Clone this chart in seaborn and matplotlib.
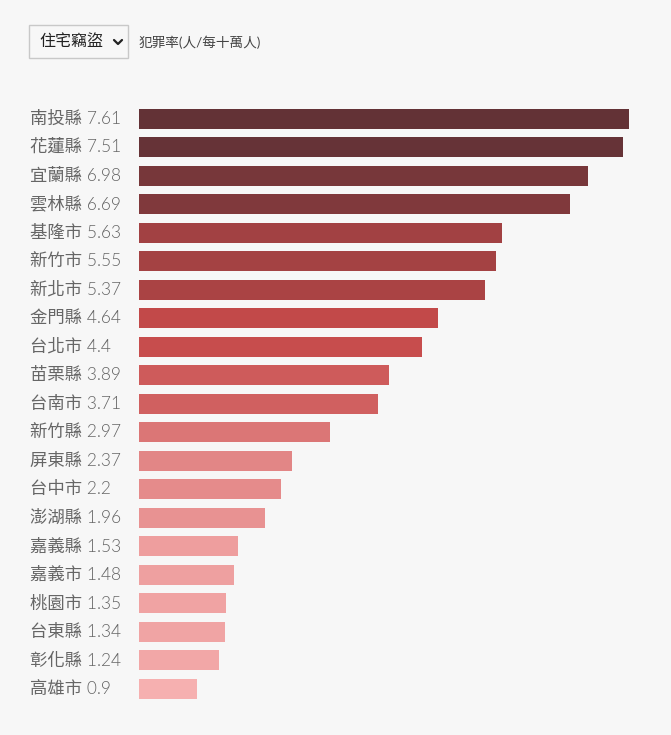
import numpy as np
import pandas as pd
import matplotlib
matplotlib.use("Agg")
import matplotlib.pyplot as plt
import seaborn as sns
from matplotlib.colors import LinearSegmentedColormap, Normalize
from matplotlib.patches import Rectangle
from matplotlib.lines import Line2D
import matplotlib.transforms as mtransforms

regions = ["南投縣", "花蓮縣", "宜蘭縣", "雲林縣", "基隆市", "新竹市", "新北市",
           "金門縣", "台北市", "苗栗縣", "台南市", "新竹縣", "屏東縣", "台中市",
           "澎湖縣", "嘉義縣", "嘉義市", "桃園市", "台東縣", "彰化縣", "高雄市"]
rates = [7.61, 7.51, 6.98, 6.69, 5.63, 5.55, 5.37, 4.64, 4.4, 3.89, 3.71,
         2.97, 2.37, 2.2, 1.96, 1.53, 1.48, 1.35, 1.34, 1.24, 0.9]
value_labels = ["7.61", "7.51", "6.98", "6.69", "5.63", "5.55", "5.37", "4.64",
                "4.4", "3.89", "3.71", "2.97", "2.37", "2.2", "1.96", "1.53",
                "1.48", "1.35", "1.34", "1.24", "0.9"]
category = "住宅竊盜"
subtitle = "犯罪率(人/每十萬人)"

df = pd.DataFrame({"region": regions, "rate": rates})

W, H = 671, 735
BG = "#f7f7f7"
sns.set_theme(style="white")
plt.rcParams["font.family"] = ["Lato", "Noto Sans CJK TC", "DejaVu Sans"]

fig = plt.figure(figsize=(W / 100, H / 100), dpi=100, facecolor=BG)

# axes geometry (pixels)
x0, x1 = 139, 629
row0, rowN = 118.5, 689.0
step = (rowN - row0) / (len(regions) - 1)
top = row0 - step / 2
bot = rowN + step / 2
ax = fig.add_axes([x0 / W, 1 - bot / H, (x1 - x0) / W, (bot - top) / H])
ax.set_facecolor(BG)

# colour scale: light pink -> red -> dark maroon
vmin, vmax = min(rates), max(rates)
cmap = LinearSegmentedColormap.from_list(
    "crime", [(0.0, "#f6b0b0"), ((4.5 - vmin) / (vmax - vmin), "#c64a4a"), (1.0, "#633236")])
norm = Normalize(vmin, vmax)
palette = {r: cmap(norm(v)) for r, v in zip(regions, rates)}

sns.barplot(data=df, x="rate", y="region", hue="region", palette=palette,
            order=regions, legend=False, width=20 / step, saturation=1,
            linewidth=0, ax=ax)
ax.set_xlim(0, vmax)
ax.set_ylim(len(regions) - 0.5, -0.5)
ax.set_xlabel("")
ax.set_ylabel("")
ax.set_xticks([])
ax.set_yticks([])
for s in ax.spines.values():
    s.set_visible(False)

# labels on the left
trans = mtransforms.blended_transform_factory(fig.transFigure, ax.transData)
for i, (r, lab) in enumerate(zip(regions, value_labels)):
    ax.text(30 / W, i, f"{r} {lab}", transform=trans, ha="left", va="center",
            fontsize=12.5, color="#666666", fontweight=300, clip_on=False)

# dropdown
fig.patches.append(Rectangle((29 / W, 1 - 58 / H), 99 / W, 33 / H,
                             transform=fig.transFigure, facecolor=BG,
                             edgecolor="#c8c8c8", linewidth=1))
fig.text(39 / W, 1 - 42 / H, category, ha="left", va="center",
         fontsize=11.5, color="#222222")
fig.lines.append(Line2D([114 / W, 118 / W, 122 / W],
                        [1 - 40 / H, 1 - 44 / H, 1 - 40 / H],
                        transform=fig.transFigure, color="#222222", linewidth=1.6))
fig.text(139 / W, 1 - 42 / H, subtitle, ha="left", va="center",
         fontsize=9.8, color="#444444")

fig.savefig("out.png", dpi=100, facecolor=BG)
